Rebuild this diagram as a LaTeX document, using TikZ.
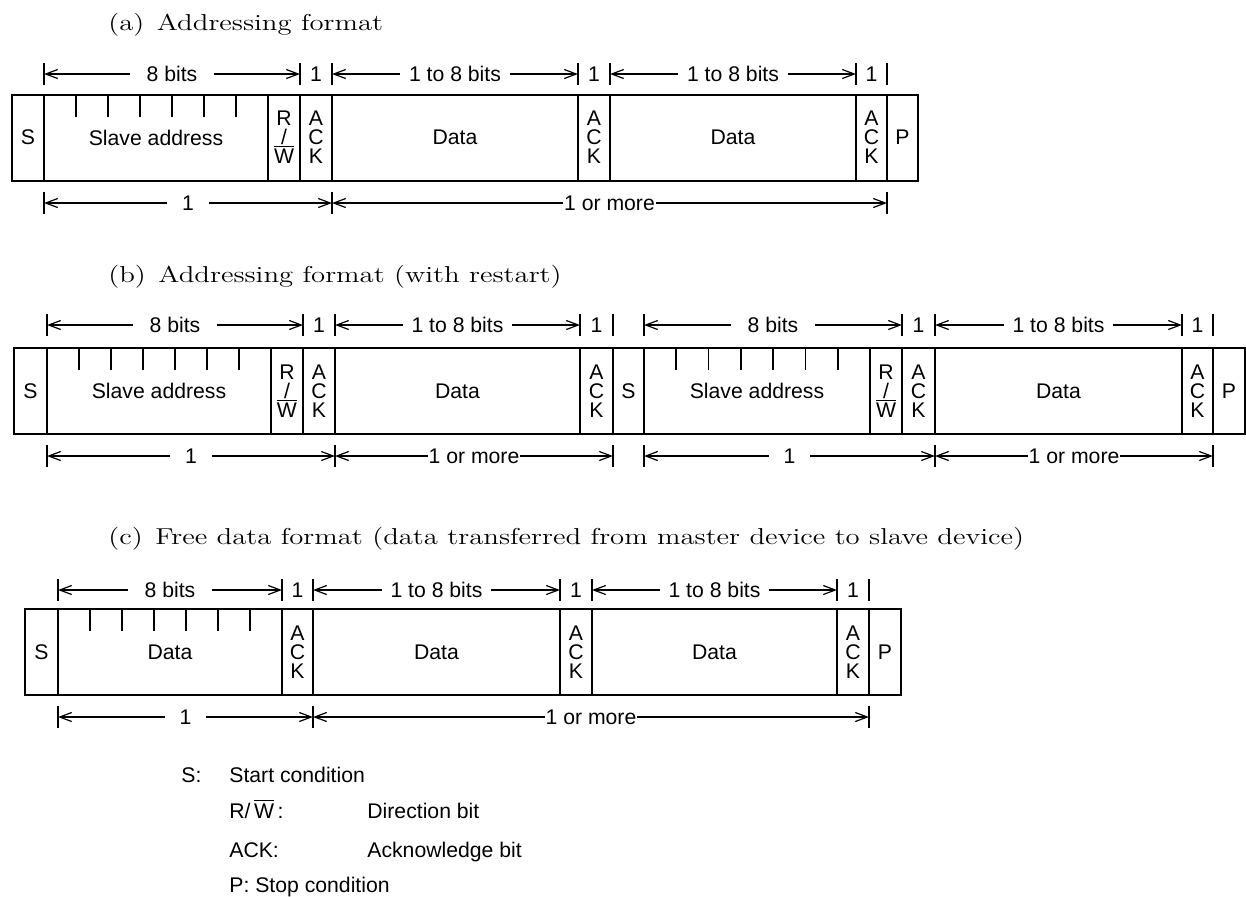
\documentclass[tikz,border=0pt]{standalone}
\usepackage{fontspec}
\usepackage{graphicx}
\setsansfont{Liberation Sans}
\usetikzlibrary{positioning,arrows.meta,calc}

\tikzset{
  cell/.style={draw, line width=1pt, minimum width=#1*0.5pt, minimum height=43pt,
    inner sep=0pt, outer sep=0pt, align=center,
    font=\sffamily\fontsize{10.6}{9.5}\selectfont},
  tick/.style={line width=0.8pt},
  dimbar/.style={line width=0.7pt},
  dimarr/.style={line width=0.6pt,
    {Straight Barb[length=6pt,width=4.5pt]}-{Straight Barb[length=6pt,width=4.5pt]}},
  lbl/.style={fill=white, inner xsep=#1, inner ysep=1pt,
    font=\sffamily\fontsize{10.6}{12}\selectfont},
  title/.style={anchor=base west, inner sep=0pt, font=\fontsize{11.5}{14}\selectfont},
  legend/.style={anchor=base west, inner sep=0pt, font=\sffamily\fontsize{10.6}{12}\selectfont},
}

% dimension arrow: from, to, row, label, gap
\newcommand{\dimarrow}[5]{%
  \draw[dimbar] (#1 |- #3) ++(0,-11) -- ++(0,22);
  \draw[dimbar] (#2 |- #3) ++(0,-11) -- ++(0,22);
  \draw[dimarr] (#1 |- #3) -- (#2 |- #3) node[midway,lbl=#5] {#4};}
\newcommand{\bitone}[2]{\node[lbl=0pt] at (#1.center |- #2) {1};}
\newcommand{\lastbar}[2]{\draw[dimbar] (#1 |- #2) ++(0,-11) -- ++(0,22);}
\newcommand{\addrticks}[1]{%
  \foreach \i in {1,...,6} \draw[tick] ($(#1.north west)!\i/7!(#1.north east)$) -- ++(0,22);}
\newcommand{\rw}{R\\/\\$\overline{\mbox{W}}$}
\newcommand{\ack}{A\\C\\K}
\newcommand{\wide}[1]{\scalebox{1.25}[1]{#1}}

\begin{document}
\begin{tikzpicture}[x=0.5pt, y=-0.5pt]
\useasboundingbox (0,0) rectangle (1246,896);

% (a) addressing format
\node[title] (ta) at (108,30) {\wide{(a)\hspace{5pt}Addressing format}};
\coordinate (atop) at (0,74);
\coordinate (abot) at (0,203);
\node[cell=32] (aS) at (28,137.5) {S};
\node[cell=224, right=0pt of aS] (aSA) {Slave address};
\node[cell=32, right=0pt of aSA] (aRW) {\rw};
\node[cell=32, right=0pt of aRW] (aA1) {\ack};
\node[cell=246, right=0pt of aA1] (aD1) {Data};
\node[cell=32, right=0pt of aD1] (aA2) {\ack};
\node[cell=246, right=0pt of aA2] (aD2) {Data};
\node[cell=31, right=0pt of aD2] (aA3) {\ack};
\node[cell=31, right=0pt of aA3] (aP) {P};
\addrticks{aSA}
\dimarrow{aSA.west}{aA1.west}{atop}{8 bits}{8.5pt}
\bitone{aA1}{atop}
\dimarrow{aD1.west}{aA2.west}{atop}{1 to 8 bits}{4.5pt}
\bitone{aA2}{atop}
\dimarrow{aD2.west}{aA3.west}{atop}{1 to 8 bits}{4.5pt}
\bitone{aA3}{atop}
\lastbar{aP.west}{atop}
\dimarrow{aSA.west}{aD1.west}{abot}{1}{7.5pt}
\dimarrow{aD1.west}{aP.west}{abot}{1 or more}{0.5pt}

% (b) addressing format with restart
\node[title] (tb) at (108,282) {\wide{(b)\hspace{5pt}Addressing format (with restart)}};
\coordinate (btop) at (0,325);
\coordinate (bbot) at (0,456);
\node[cell=33] (bS1) at (30.5,391) {S};
\node[cell=224, right=0pt of bS1] (bSA1) {Slave address};
\node[cell=32, right=0pt of bSA1] (bRW1) {\rw};
\node[cell=32, right=0pt of bRW1] (bA1) {\ack};
\node[cell=245, right=0pt of bA1] (bD1) {Data};
\node[cell=33, right=0pt of bD1] (bA2) {\ack};
\node[cell=31, right=0pt of bA2] (bS2) {S};
\node[cell=226, right=0pt of bS2] (bSA2) {Slave address};
\node[cell=32, right=0pt of bSA2] (bRW2) {\rw};
\node[cell=33, right=0pt of bRW2] (bA3) {\ack};
\node[cell=247, right=0pt of bA3] (bD2) {Data};
\node[cell=31, right=0pt of bD2] (bA4) {\ack};
\node[cell=32, right=0pt of bA4] (bP) {P};
\addrticks{bSA1}
\addrticks{bSA2}
\dimarrow{bSA1.west}{bA1.west}{btop}{8 bits}{8.5pt}
\bitone{bA1}{btop}
\dimarrow{bD1.west}{bA2.west}{btop}{1 to 8 bits}{4.5pt}
\bitone{bA2}{btop}
\lastbar{bS2.west}{btop}
\dimarrow{bSA2.west}{bA3.west}{btop}{8 bits}{8.5pt}
\bitone{bA3}{btop}
\dimarrow{bD2.west}{bA4.west}{btop}{1 to 8 bits}{4.5pt}
\bitone{bA4}{btop}
\lastbar{bP.west}{btop}
\dimarrow{bSA1.west}{bD1.west}{bbot}{1}{7.5pt}
\dimarrow{bD1.west}{bS2.west}{bbot}{1 or more}{0.5pt}
\dimarrow{bSA2.west}{bD2.west}{bbot}{1}{7.5pt}
\dimarrow{bD2.west}{bP.west}{bbot}{1 or more}{0.5pt}

% (c) free data format
\node[title] (tc) at (108,544) {\wide{(c)\hspace{5pt}Free data format (data transferred from master device to slave device)}};
\coordinate (ctop) at (0,590);
\coordinate (cbot) at (0,717);
\node[cell=33] (cS) at (41.5,652) {S};
\node[cell=224, right=0pt of cS] (cD0) {Data};
\node[cell=31, right=0pt of cD0] (cA1) {\ack};
\node[cell=247, right=0pt of cA1] (cD1) {Data};
\node[cell=32, right=0pt of cD1] (cA2) {\ack};
\node[cell=245, right=0pt of cA2] (cD2) {Data};
\node[cell=32, right=0pt of cD2] (cA3) {\ack};
\node[cell=32, right=0pt of cA3] (cP) {P};
\addrticks{cD0}
\dimarrow{cD0.west}{cA1.west}{ctop}{8 bits}{8.5pt}
\bitone{cA1}{ctop}
\dimarrow{cD1.west}{cA2.west}{ctop}{1 to 8 bits}{4.5pt}
\bitone{cA2}{ctop}
\dimarrow{cD2.west}{cA3.west}{ctop}{1 to 8 bits}{4.5pt}
\bitone{cA3}{ctop}
\lastbar{cP.west}{ctop}
\dimarrow{cD0.west}{cD1.west}{cbot}{1}{7.5pt}
\dimarrow{cD1.west}{cP.west}{cbot}{1 or more}{0.5pt}

% legend
\node[legend] (lgS) at (181,782) {S:};
\node[legend] (lgStart) at (229,782) {Start condition};
\node[legend] (lgRW) at (229,818) {R/\,$\overline{\mbox{W}}$\,:};
\node[legend] (lgDir) at (367,818) {Direction bit};
\node[legend] (lgACK) at (229,857) {ACK:};
\node[legend] (lgAck) at (367,857) {Acknowledge bit};
\node[legend] (lgP) at (229,892) {P: Stop condition};
\end{tikzpicture}
\end{document}
